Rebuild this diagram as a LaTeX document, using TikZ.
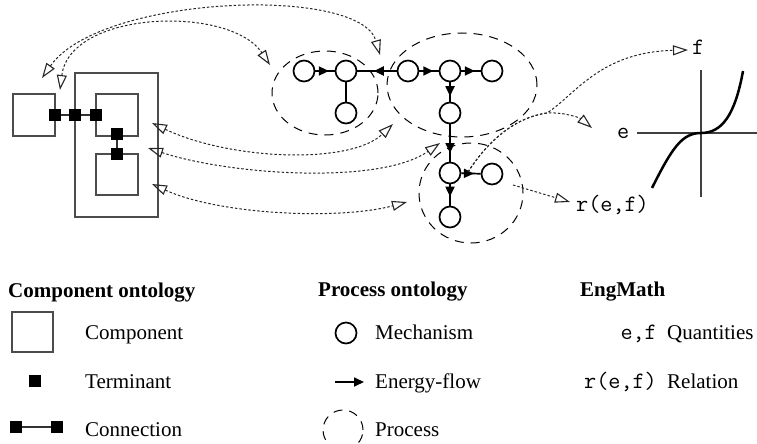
\documentclass[tikz,border=0pt]{standalone}
\usepackage{fontspec}
\setmainfont{Liberation Serif}
\usetikzlibrary{arrows.meta,decorations.markings,shapes.geometric}
\begin{document}
\begin{tikzpicture}[x=1pt,y=-1pt,
  comp/.style={draw=black!70, line width=1.3pt, inner sep=0pt},
  term/.style={fill=black, minimum size=12pt, inner sep=0pt},
  conn/.style={line width=2pt, draw=black!80},
  mech/.style={circle, draw, line width=1.7pt, minimum size=21pt, inner sep=0pt},
  flowtip/.tip={Triangle[length=10pt,width=9pt]},
  flow/.style={line width=1.7pt, postaction={decorate},
    decoration={markings, mark=at position #1 with {\arrow{flowtip}}}},
  proc/.style={draw, line width=1pt, dash pattern=on 9pt off 7pt},
  maptip/.tip={Triangle[open,length=15pt,width=10pt,line width=1.1pt]},
  map/.style={draw=black!85, line width=1pt, dash pattern=on 2.5pt off 2pt, maptip-maptip},
  mapone/.style={draw=black!85, line width=1pt, dash pattern=on 2.5pt off 2pt, -maptip},
  lbl/.style={font=\fontsize{21}{25}\selectfont, inner sep=0pt, anchor=base west},
  mono/.style={font=\fontsize{23.5}{27}\selectfont\ttfamily, inner sep=0pt},
]
\useasboundingbox (0,0) rectangle (757,444);

% ---------- component ontology drawing ----------
\node[comp, minimum width=42pt, minimum height=42pt] (lb) at (34,115) {};
\node[comp, minimum width=83pt, minimum height=144pt] (bb) at (116.5,145) {};
\node[comp, minimum width=42pt, minimum height=42pt] (ib1) at (117,115) {};
\node[comp, minimum width=42pt, minimum height=41pt] (ib2) at (117,174.5) {};
\node[term] (t1) at (55,115) {};
\node[term] (t2) at (75,115) {};
\node[term] (t3) at (96,115) {};
\node[term] (t4) at (117,134) {};
\node[term] (t5) at (117,154) {};
\draw[conn] (t1) -- (t2);
\draw[conn] (t2) -- (t3);
\draw[conn] (t4) -- (t5);

% ---------- process ontology drawing ----------
\draw[proc] (325,93) ellipse [x radius=53pt, y radius=42pt];
\draw[proc] (462,85) ellipse [x radius=75pt, y radius=52pt];
\draw[proc] (471,193) ellipse [x radius=52pt, y radius=50pt];

\node[mech] (m1) at (304,71) {};
\node[mech] (m2) at (346,71) {};
\node[mech] (m3) at (346,113) {};
\node[mech] (m4) at (408,71) {};
\node[mech] (m5) at (450,71) {};
\node[mech] (m6) at (492,71) {};
\node[mech] (m7) at (450,113) {};
\node[mech] (m8) at (450,173) {};
\node[mech] (m9) at (492,174) {};
\node[mech] (m10) at (450,217) {};
\draw[flow=0.7] (m1) -- (m2);
\draw[line width=1.7pt] (m2) -- (m3);
\draw[flow=0.58, line width=2.4pt] (m4) -- (m2);
\draw[flow=0.72] (m4) -- (m5);
\draw[flow=0.7] (m5) -- (m6);
\draw[flow=0.72] (m5) -- (m7);
\draw[flow=0.77] (m7) -- (m8);
\draw[flow=0.65] (m8) -- (m9);
\draw[flow=0.58] (m8) -- (m10);

% ---------- engmath drawing ----------
\coordinate (ax1) at (637,133);
\coordinate (ax2) at (757,133);
\coordinate (ay1) at (701,70);
\coordinate (ay2) at (701,197);
\draw[line width=1.5pt, black!75] (ax1) -- (ax2);
\draw[line width=1.5pt, black!75] (ay1) -- (ay2);
\coordinate (c0) at (652,188);
\coordinate (c1) at (701,133);
\coordinate (c2) at (743,71);
\draw[line width=2.5pt] (c0) .. controls (672,148) and (682,133) .. (c1)
  .. controls (722,133) and (735,115) .. (c2);
\node[mono, anchor=base west] (fl) at (692,55) {f};
\node[mono, anchor=base west] (el) at (617,138) {e};
\node[mono, anchor=base west] (rl) at (576,211) {r(e,f)};

% ---------- mappings ----------
\coordinate (a1) at (42,78);
\coordinate (a2) at (380,55);
\draw[map] (a1) .. controls (100,-5) and (360,-15) .. (a2);
\coordinate (b1) at (60,90);
\coordinate (b2) at (270,65);
\draw[map] (b1) .. controls (70,10) and (230,5) .. (b2);
\coordinate (cc1) at (152,123);
\coordinate (cc2) at (393,124);
\draw[map] (cc1) .. controls (230,160) and (350,165) .. (cc2);
\coordinate (d1) at (148,148);
\coordinate (d2) at (440,143);
\draw[map] (d1) .. controls (230,175) and (380,185) .. (d2);
\coordinate (e1) at (152,184);
\coordinate (e2) at (407,202);
\draw[map] (e1) .. controls (220,215) and (340,220) .. (e2);

\coordinate (s) at (468,172);
\coordinate (br) at (547,113);
\coordinate (etip) at (592,128);
\coordinate (ftip) at (688,50);
\draw[mapone] (s) .. controls (495,130) and (525,116) .. (br)
  .. controls (565,112) and (580,118) .. (etip);
\draw[mapone] (s) .. controls (495,130) and (525,116) .. (br)
  .. controls (575,95) and (600,52) .. (ftip);
\coordinate (rs) at (513,185);
\coordinate (rtip) at (570,202);
\draw[mapone] (rs) -- (rtip);

% ---------- legend ----------
\node[lbl] (h1) at (8,297) {\bfseries Component ontology};
\node[comp, minimum width=41pt, minimum height=40pt] (lgc) at (32.5,332) {};
\node[lbl] (lgct) at (85,339) {Component};
\node[term] (lgt) at (35,381) {};
\node[lbl] (lgtt) at (85,388) {Terminant};
\node[term] (lgk1) at (16,427) {};
\node[term] (lgk2) at (57,427) {};
\draw[conn] (lgk1) -- (lgk2);
\node[lbl] (lgkt) at (85,436) {Connection};

\node[lbl] (h2) at (318,296) {\bfseries Process ontology};
\node[mech] (lgm) at (346,333) {};
\node[lbl] (lgmt) at (375,339) {Mechanism};
\coordinate (lgf1) at (335,382);
\coordinate (lgf2) at (364,382);
\draw[line width=1.7pt, -flowtip] (lgf1) -- (lgf2);
\node[lbl] (lgft) at (375,388) {Energy-flow};
\draw[proc] (343,430) circle [radius=20pt];
\node[lbl] (lgpt) at (375,436) {Process};

\node[lbl] (h3) at (580,296) {\bfseries EngMath};
\node[mono, anchor=base east] (lgq) at (657,339) {e,f};
\node[lbl] (lgqt) at (667,339) {Quantities};
\node[mono, anchor=base east] (lgr) at (657,388) {r(e,f)};
\node[lbl] (lgrt) at (667,388) {Relation};
\end{tikzpicture}
\end{document}
